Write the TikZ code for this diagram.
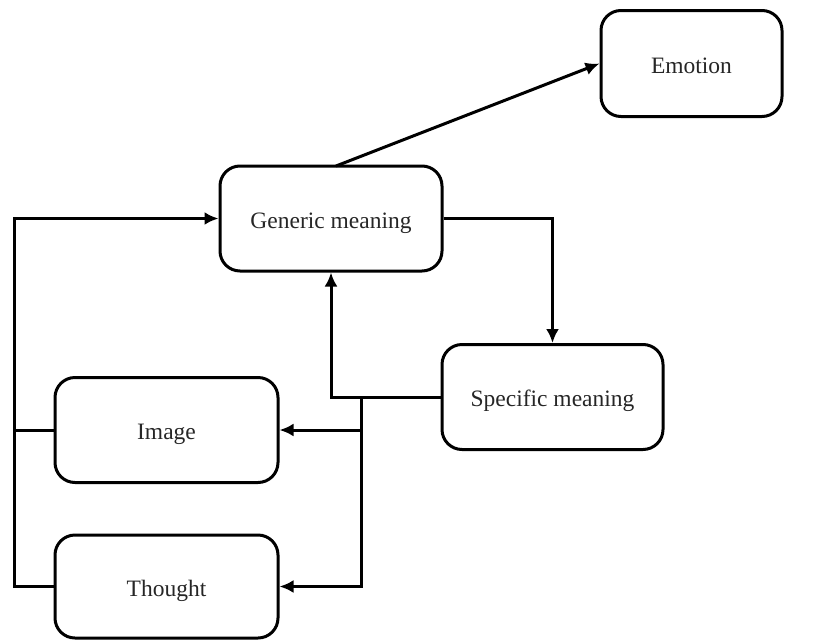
\documentclass[tikz,border=0pt]{standalone}
\usepackage{fontspec}
\setmainfont{Liberation Serif}
\usetikzlibrary{arrows.meta}
% set the label so its baseline sits a little below the box centre
\newcommand{\boxlabel}[1]{\raisebox{-9.5pt}[0pt][0pt]{#1}}
\begin{document}
\begin{tikzpicture}[x=1pt,y=-1pt,
  box/.style={draw, line width=3pt, rounded corners=20pt, rectangle,
    inner sep=0pt, font=\fontsize{23.5}{27}\selectfont, text=black!85},
  link/.style={line width=3pt, line join=miter},
  arr/.style={link, -{Latex[length=14pt,width=13pt]}}]
\useasboundingbox (0,0) rectangle (813,640);
% boxes
\node[box, minimum width=181pt, minimum height=106pt] (emo) at (691.5,63.5) {\boxlabel{Emotion}};
\node[box, minimum width=222pt, minimum height=105pt] (gen) at (331,218.5) {\boxlabel{Generic meaning}};
\node[box, minimum width=221pt, minimum height=105pt] (spec) at (552.5,397) {\boxlabel{Specific meaning}};
\node[box, minimum width=223pt, minimum height=105pt] (img) at (166.5,430) {\boxlabel{Image}};
\node[box, minimum width=223pt, minimum height=103pt] (th) at (166.5,586.5) {\boxlabel{Thought}};
% helper points
\coordinate (top) at (336,166);
\coordinate (j) at (361,397);
\coordinate (lx) at (14,0);
% connectors
\draw[arr] (top) -- (emo.west);
\draw[arr] (gen.east) -| (spec.north);
\draw[arr] (spec.west) -| (gen.south);
\draw[arr] (j) |- (img.east);
\draw[arr] (j) |- (th.east);
\draw[link] (img.west) -- (lx |- img.west);
\draw[arr] (th.west) -| (lx |- gen.west) -- (gen.west);
\end{tikzpicture}
\end{document}
